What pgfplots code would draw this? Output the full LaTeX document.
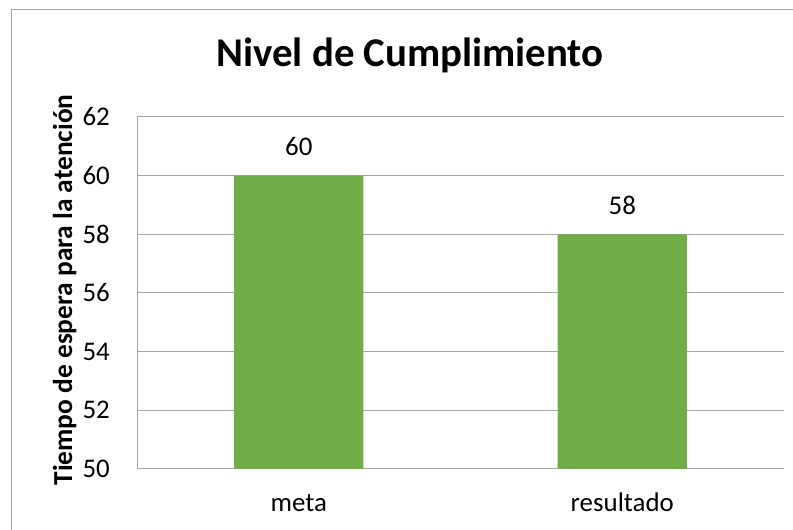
\documentclass[border=0pt]{standalone}
\usepackage{fontspec}
\setmainfont{Carlito}
\usepackage{pgfplots}
\pgfplotsset{compat=1.18}
\definecolor{bargreen}{HTML}{70AD47}
\definecolor{gridgray}{HTML}{A6A6A6}
\begin{document}
\begin{tikzpicture}[x=1bp,y=1bp]
\useasboundingbox (0,0) rectangle (793,530);
\fill[white] (0,0) rectangle (793,530);
\draw[gridgray, line width=1bp] (11,-5) -- (11,520) -- (800,520);
\node[anchor=base, inner sep=0, font=\fontsize{41}{46}\selectfont\bfseries] at (410,463.3) {Nivel de Cumplimiento};
\node[anchor=base, rotate=90, inner sep=0, font=\fontsize{27.5}{32}\selectfont\bfseries] at (72,240) {Tiempo de espera para la atención};
\begin{axis}[
  at={(137bp,61bp)}, anchor=south west,
  scale only axis, width=647bp, height=352bp,
  xmin=-0.5, xmax=1.5, ymin=50, ymax=62,
  ytick={50,52,...,62},
  xtick={0,1}, xticklabels={meta,resultado},
  axis x line*=bottom, axis y line*=left,
  axis line style={gridgray, line width=1bp, -},
  ymajorgrids, grid style={gridgray, line width=1bp},
  major tick length=0,
  /pgf/number format/assume math mode=true,
  tick label style={font=\fontsize{27}{31}\selectfont, inner sep=0},
  yticklabel style={anchor=east, xshift=-27bp},
  xticklabel style={anchor=base, yshift=-43bp},
  ybar, bar width=0.4,
  nodes near coords,
  every node near coord/.append style={font=\fontsize{27}{31}\selectfont, anchor=base, inner sep=0, yshift=20bp, black},
  clip=false,
]
\addplot[fill=bargreen, draw=none, bar shift=0] coordinates {(0,60) (1,58)};
\end{axis}
\end{tikzpicture}
\end{document}
